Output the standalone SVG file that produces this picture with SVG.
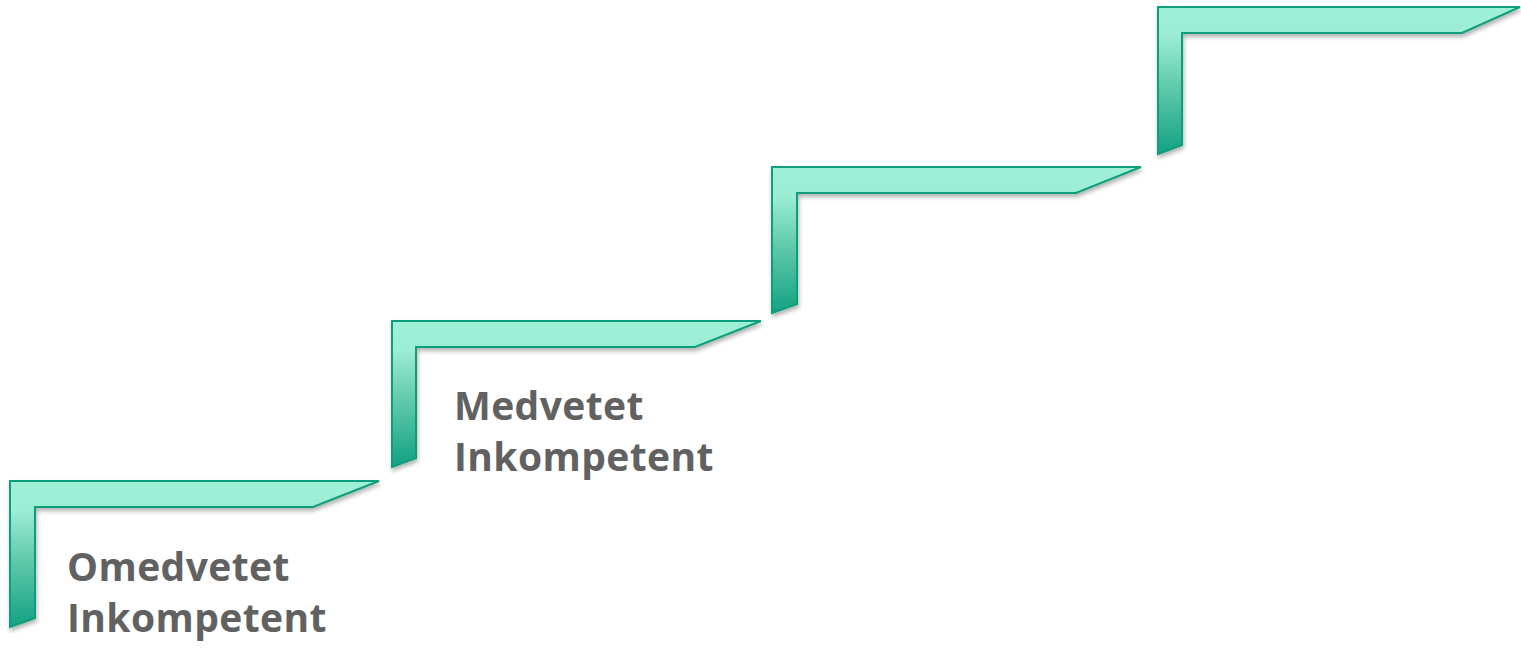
<svg xmlns="http://www.w3.org/2000/svg" width="1521" height="651" viewBox="0 0 1521 651">
<style>
.step{fill:url(#g);stroke:#109e7d;stroke-width:2;stroke-linejoin:miter;filter:url(#sh)}
.lbl{font-family:"Open Sans","Liberation Sans",sans-serif;font-weight:700;font-size:39px;letter-spacing:0.4px;fill:#616161}
</style>
<defs>
<linearGradient id="g" x1="0" y1="0" x2="0" y2="1">
<stop offset="0" stop-color="#9ef1d7"/>
<stop offset="0.2" stop-color="#9bedd4"/>
<stop offset="0.55" stop-color="#5fc9aa"/>
<stop offset="1" stop-color="#13a282"/>
</linearGradient>
<filter id="sh" x="-5%" y="-5%" width="110%" height="120%">
<feDropShadow dx="1" dy="3" stdDeviation="2" flood-color="#000" flood-opacity="0.3"/>
</filter>
</defs>
<g id="step1"><path class="step" d="M10,481 L379,481 L313,507 L35,507 L35,618 L10,627 Z"/></g>
<g id="step2"><path class="step" d="M392,321 L761,321 L695,347 L416,347 L416,458 L392,467 Z"/></g>
<g id="step3"><path class="step" d="M772,167 L1141,167 L1076,193 L797,193 L797,304 L772,313 Z"/></g>
<g id="step4"><path class="step" d="M1158,7 L1520,7 L1462,33 L1182,33 L1182,145 L1158,154 Z"/></g>
<g id="label1"><text class="lbl" x="67" y="581">Omedvetet</text><text class="lbl" x="67" y="632">Inkompetent</text></g>
<g id="label2"><text class="lbl" x="454" y="420">Medvetet</text><text class="lbl" x="454" y="471">Inkompetent</text></g>
<g id="connectors"></g>
</svg>
